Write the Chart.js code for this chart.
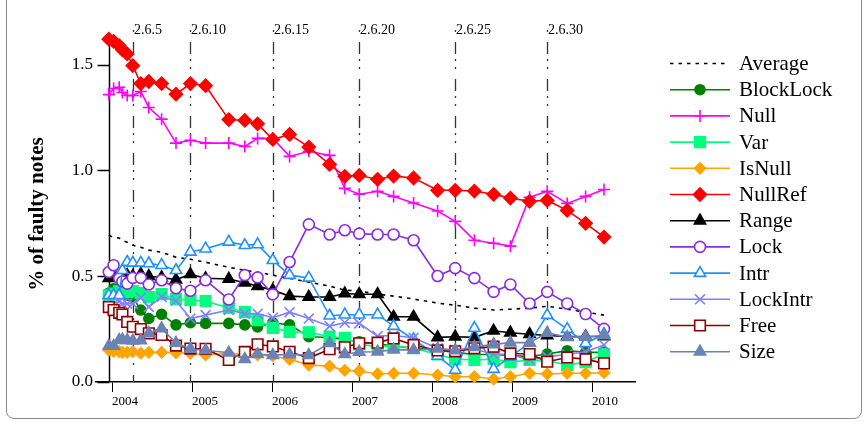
<!DOCTYPE html>
<html>
<head>
<meta charset="utf-8">
<script src="https://cdn.jsdelivr.net/npm/chart.js@4.4.1/dist/chart.umd.min.js"></script>
<style>
  html, body { margin: 0; padding: 0; background: #fff; }
  #wrap { position: relative; width: 868px; height: 422px; overflow: hidden; }
  #wrap canvas { position: absolute; left: 0; top: 0; }
  #frame { position: absolute; left: 6px; top: -10px; width: 854px; height: 427px;
           border: 1px solid #8c8c8c; border-radius: 8px; pointer-events: none; }
</style>
</head>
<body>
<div id="wrap">
  <canvas id="chart" width="868" height="422"></canvas>
  <div id="frame"></div>
</div>
<script>
// Kernel releases 2.6.0 .. 2.6.33 and their release dates (decimal years)
const releases = ['2.6.0','2.6.1','2.6.2','2.6.3','2.6.4','2.6.5','2.6.6','2.6.7','2.6.8','2.6.9',
  '2.6.10','2.6.11','2.6.12','2.6.13','2.6.14','2.6.15','2.6.16','2.6.17','2.6.18','2.6.19',
  '2.6.20','2.6.21','2.6.22','2.6.23','2.6.24','2.6.25','2.6.26','2.6.27','2.6.28','2.6.29',
  '2.6.30','2.6.31','2.6.32','2.6.33'];
const releaseDates = [2003.96, 2004.02, 2004.09, 2004.13, 2004.19, 2004.26, 2004.36, 2004.46, 2004.62, 2004.80,
  2004.98, 2005.17, 2005.46, 2005.66, 2005.82, 2006.01, 2006.22, 2006.46, 2006.72, 2006.91,
  2007.09, 2007.32, 2007.52, 2007.77, 2008.07, 2008.29, 2008.53, 2008.77, 2008.98, 2009.22,
  2009.44, 2009.69, 2009.92, 2010.15];
const markedReleases = ['2.6.5', '2.6.10', '2.6.15', '2.6.20', '2.6.25', '2.6.30'];
const yearTicks = [2004, 2005, 2006, 2007, 2008, 2009, 2010];
const percentTicks = [0, 0.5, 1.0, 1.5];

// Percentage of faulty notes per checker, one value per release
const average   = [0.693,0.684,0.68,0.67,0.66,0.646,0.637,0.623,0.613,0.59,0.58,0.566,0.542,0.528,0.519,0.505,0.49,
                   0.472,0.453,0.434,0.43,0.415,0.406,0.392,0.373,0.363,0.349,0.34,0.344,0.349,0.358,0.344,0.33,0.316];
const blockLock = [0.42,0.44,0.43,0.42,0.41,0.40,0.34,0.30,0.32,0.27,0.28,0.277,0.277,0.27,0.26,0.28,0.27,
                   0.214,0.21,0.20,0.19,0.18,0.17,0.16,0.15,0.14,0.13,0.13,0.125,0.12,0.132,0.148,0.14,0.14];
const nullChk   = [1.358,1.387,1.393,1.368,1.354,1.354,1.373,1.297,1.242,1.129,1.142,1.129,1.129,1.113,1.151,1.151,1.066,
                   1.09,1.071,0.915,0.887,0.901,0.877,0.846,0.808,0.759,0.67,0.656,0.642,0.873,0.901,0.844,0.877,0.91];
const varChk    = [0.41,0.418,0.43,0.43,0.425,0.43,0.42,0.401,0.415,0.392,0.387,0.382,0.35,0.33,0.292,0.256,0.237,
                   0.235,0.214,0.209,0.178,0.167,0.17,0.16,0.13,0.108,0.104,0.108,0.094,0.104,0.10,0.08,0.094,0.132];
const isNull    = [0.151,0.145,0.143,0.14,0.14,0.143,0.136,0.14,0.14,0.138,0.135,0.128,0.135,0.13,0.128,0.123,0.107,
                   0.08,0.075,0.055,0.052,0.038,0.041,0.041,0.033,0.025,0.025,0.014,0.025,0.041,0.038,0.041,0.041,0.044];
const nullRef   = [1.62,1.61,1.59,1.57,1.55,1.495,1.41,1.42,1.41,1.36,1.41,1.40,1.24,1.236,1.22,1.146,1.17,
                   1.11,1.028,0.972,0.976,0.958,0.973,0.964,0.906,0.906,0.902,0.887,0.869,0.854,0.858,0.811,0.75,0.685];
const range     = [0.49,0.50,0.50,0.50,0.505,0.50,0.51,0.50,0.494,0.484,0.509,0.49,0.487,0.469,0.453,0.434,0.406,
                   0.402,0.402,0.418,0.415,0.415,0.308,0.308,0.211,0.214,0.211,0.242,0.233,0.226,0.22,0.215,0.215,0.215];
const lock      = [0.52,0.552,0.49,0.475,0.465,0.492,0.492,0.461,0.481,0.443,0.431,0.481,0.39,0.505,0.494,0.414,0.567,
                   0.745,0.697,0.717,0.701,0.697,0.697,0.67,0.501,0.538,0.491,0.426,0.461,0.371,0.426,0.371,0.321,0.251];
const intr      = [0.41,0.41,0.41,0.528,0.567,0.563,0.563,0.56,0.552,0.528,0.615,0.63,0.662,0.646,0.65,0.575,0.505,
                   0.492,0.313,0.318,0.318,0.318,0.264,0.201,0.123,0.057,0.255,0.061,0.12,0.184,0.316,0.25,0.183,0.226];
const lockIntr  = [0.36,0.37,0.38,0.37,0.37,0.37,0.398,0.355,0.402,0.384,0.30,0.316,0.34,0.323,0.323,0.304,0.33,
                   0.30,0.264,0.28,0.277,0.217,0.22,0.209,0.159,0.151,0.155,0.132,0.13,0.104,0.12,0.13,0.143,0.175];
const free      = [0.354,0.34,0.327,0.319,0.284,0.261,0.25,0.23,0.222,0.172,0.158,0.157,0.104,0.142,0.178,0.168,0.143,
                   0.113,0.155,0.164,0.183,0.186,0.206,0.175,0.149,0.145,0.159,0.167,0.135,0.132,0.096,0.116,0.108,0.088];
const size      = [0.17,0.17,0.198,0.2,0.198,0.195,0.196,0.231,0.253,0.184,0.156,0.15,0.138,0.108,0.131,0.127,0.13,
                   0.127,0.183,0.131,0.142,0.143,0.153,0.151,0.157,0.149,0.165,0.178,0.186,0.186,0.232,0.212,0.213,0.22];

const SERIF = "'Liberation Serif', 'Times New Roman', Times, serif";

// Appearance of each series (legend order)
const series = [
  { label: 'Average',   values: average,   color: '#000000', style: false,      radius: 0,   filled: true, dash: [3.5, 5] },
  { label: 'BlockLock', values: blockLock, color: '#008000', style: 'circle',   radius: 5,   filled: true },
  { label: 'Null',      values: nullChk,   color: '#ff00ff', style: 'cross',    radius: 6,   filled: true },
  { label: 'Var',       values: varChk,    color: '#00ff7f', style: 'rect',     radius: 7.5, filled: true },
  { label: 'IsNull',    values: isNull,    color: '#ffa500', style: 'rectRot',  radius: 5.5, filled: true },
  { label: 'NullRef',   values: nullRef,   color: '#ff0000', style: 'rectRot',  radius: 6.5, filled: true },
  { label: 'Range',     values: range,     color: '#000000', style: 'triangle', radius: 6.5, filled: true },
  { label: 'Lock',      values: lock,      color: '#8a2be2', style: 'circle',   radius: 5.5, filled: false },
  { label: 'Intr',      values: intr,      color: '#1e90ff', style: 'triangle', radius: 6.5, filled: false },
  { label: 'LockIntr',  values: lockIntr,  color: '#8080ff', style: 'crossRot', radius: 7,   filled: true },
  { label: 'Free',      values: free,      color: '#8b0000', style: 'rect',     radius: 7.5, filled: false },
  { label: 'Size',      values: size,      color: '#6b82b4', style: 'triangle', radius: 6.5, filled: true }
];

const datasets = series.map((s, i) => ({
  label: s.label,
  data: releaseDates.map((d, k) => ({ x: d, y: s.values[k] })),
  borderColor: s.color,
  backgroundColor: s.color,
  borderWidth: 1.6,
  borderDash: s.dash || [],
  pointStyle: s.style,
  pointRadius: s.radius,
  pointHoverRadius: s.radius,
  pointBackgroundColor: s.filled ? s.color : '#ffffff',
  pointBorderColor: s.color,
  pointBorderWidth: 1.6,
  tension: 0,
  clip: false,
  order: series.length - i   // later series are painted on top
}));

// Fallback marker painter in case helpers are not exposed
function paintMarker(ctx, style, r, x, y) {
  if (Chart.helpers && Chart.helpers.drawPoint) {
    Chart.helpers.drawPoint(ctx, { pointStyle: style, radius: r, rotation: 0, borderWidth: ctx.lineWidth }, x, y);
    return;
  }
  ctx.beginPath();
  if (style === 'circle') ctx.arc(x, y, r, 0, Math.PI * 2);
  ctx.fill(); ctx.stroke();
}

// Dash-dot release markers with their labels along the top
const releaseMarks = {
  id: 'releaseMarks',
  beforeDatasetsDraw(chart) {
    const { ctx, chartArea, scales: { x } } = chart;
    ctx.save();
    markedReleases.forEach(name => {
      const px = Math.round(x.getPixelForValue(releaseDates[releases.indexOf(name)])) + 0.5;
      ctx.strokeStyle = '#333333';
      ctx.lineWidth = 1.3;
      ctx.setLineDash([12, 5, 2, 6, 2, 10]);
      ctx.lineDashOffset = 25;
      ctx.beginPath();
      ctx.moveTo(px, 30);
      ctx.lineTo(px, chartArea.bottom);
      ctx.stroke();
      ctx.setLineDash([]);
      ctx.fillStyle = '#000';
      ctx.font = '14px ' + SERIF;
      ctx.textAlign = 'left';
      ctx.textBaseline = 'alphabetic';
      ctx.fillText(name, px + 0.5, 34);
    });
    ctx.restore();
  }
};

// Vertical axis drawn at the first release, with outward tick marks
const leftAxis = {
  id: 'leftAxis',
  beforeDatasetsDraw(chart) {
    const { ctx, chartArea, scales: { x, y } } = chart;
    const px = Math.round(x.getPixelForValue(releaseDates[0])) + 0.5;
    ctx.save();
    ctx.strokeStyle = '#000';
    ctx.lineWidth = 1.5;
    ctx.beginPath();
    ctx.moveTo(px, chartArea.top);
    ctx.lineTo(px, chartArea.bottom);
    percentTicks.forEach(v => {
      const py = Math.round(y.getPixelForValue(v)) + 0.5;
      ctx.moveTo(px - 12, py);
      ctx.lineTo(px, py);
    });
    ctx.stroke();
    ctx.restore();
  }
};

// Axis title
const axisTitle = {
  id: 'axisTitle',
  afterDraw(chart) {
    const { ctx } = chart;
    ctx.save();
    ctx.translate(38, 214);
    ctx.rotate(-Math.PI / 2);
    ctx.font = 'bold 21px ' + SERIF;
    ctx.fillStyle = '#000';
    ctx.textAlign = 'center';
    ctx.textBaseline = 'middle';
    ctx.fillText('% of faulty notes', 0, 0);
    ctx.restore();
  }
};

// Legend with line + marker samples
const sideLegend = {
  id: 'sideLegend',
  afterDraw(chart) {
    const { ctx, chartArea } = chart;
    const x0 = chartArea.right + 35, x1 = x0 + 60, xm = x0 + 30, xt = x0 + 69;
    ctx.save();
    series.forEach((s, i) => {
      const yy = 63.5 + i * 26.2;
      ctx.strokeStyle = s.color;
      ctx.lineWidth = 1.6;
      ctx.setLineDash(s.dash || []);
      ctx.beginPath();
      ctx.moveTo(x0, yy);
      ctx.lineTo(s.dash ? x1 - 4 : x1, yy);
      ctx.stroke();
      ctx.setLineDash([]);
      if (s.style) {
        ctx.fillStyle = s.filled ? s.color : '#ffffff';
        ctx.strokeStyle = s.color;
        ctx.lineWidth = 1.6;
        paintMarker(ctx, s.style, s.radius, xm, yy);
      }
      ctx.fillStyle = '#000';
      ctx.font = '21px ' + SERIF;
      ctx.textAlign = 'left';
      ctx.textBaseline = 'middle';
      ctx.fillText(s.label, xt, yy + 1);
    });
    ctx.restore();
  }
};

new Chart(document.getElementById('chart'), {
  type: 'line',
  data: { datasets },
  plugins: [releaseMarks, leftAxis, axisTitle, sideLegend],
  options: {
    responsive: false,
    devicePixelRatio: 1,
    animation: false,
    layout: { padding: { left: 0, right: 233, top: 36, bottom: 0 } },
    plugins: { legend: { display: false }, tooltip: { enabled: false } },
    scales: {
      x: {
        type: 'linear',
        min: 2003.8,
        max: 2010.5375,
        afterFit(scale) { scale.height = 40; },
        afterBuildTicks(scale) { scale.ticks = yearTicks.map(v => ({ value: v })); },
        ticks: {
          align: 'start',
          autoSkip: false,
          maxRotation: 0,
          padding: 2,
          color: '#000',
          font: { family: SERIF, size: 13 },
          callback: v => String(v)
        },
        grid: { drawOnChartArea: false, drawTicks: true, tickLength: 10, color: '#000', lineWidth: 1 },
        border: { display: true, color: '#000', width: 1.5 }
      },
      y: {
        type: 'linear',
        min: 0,
        max: 1.635,
        afterFit(scale) { scale.width = 96; },
        afterBuildTicks(scale) { scale.ticks = percentTicks.map(v => ({ value: v })); },
        ticks: {
          padding: 3,
          color: '#000',
          font: { family: SERIF, size: 17 },
          callback: v => Number(v).toFixed(1)
        },
        grid: { display: false, drawTicks: false },
        border: { display: false }
      }
    }
  }
});
</script>
</body>
</html>
